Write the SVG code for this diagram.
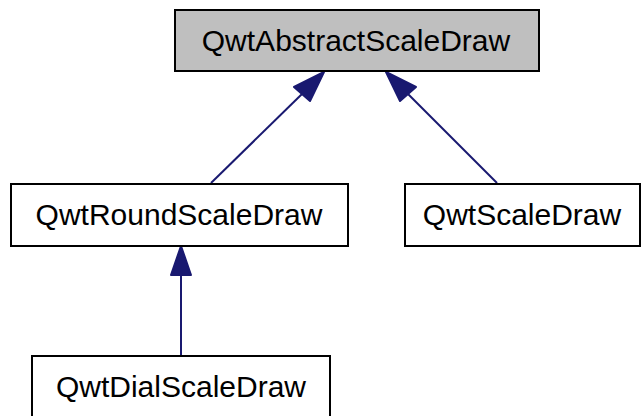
<svg xmlns="http://www.w3.org/2000/svg" width="642" height="416" viewBox="0 0 642 416">
<style>
.box{fill:#fff;stroke:#000;stroke-width:2}
.base{fill:#bfbfbf}
text{font-family:"Liberation Sans",Arial,sans-serif;font-size:30px;text-anchor:middle;fill:#000}
.edge{stroke:#191970;stroke-width:2;fill:none}
.head{fill:#191970;stroke:#191970;stroke-width:2;stroke-linejoin:round}
</style>
<rect width="642" height="416" fill="#fff"/>
<g id="edges">
<path class="edge" d="M211,183 L302,94"/>
<polygon class="head" points="324,72 294,87 310,101"/>
<path class="edge" d="M497,183 L408,94"/>
<polygon class="head" points="386,72 400,101 416,87"/>
<path class="edge" d="M181,355 L181,274"/>
<polygon class="head" points="181,246 171,275 191,275"/>
</g>
<g id="QwtAbstractScaleDraw">
<rect class="box base" x="175" y="10" width="364" height="61"/>
<text x="356" y="51">QwtAbstractScaleDraw</text>
</g>
<g id="QwtRoundScaleDraw">
<rect class="box" x="11" y="184" width="337" height="62"/>
<text x="179" y="225">QwtRoundScaleDraw</text>
</g>
<g id="QwtScaleDraw">
<rect class="box" x="405" y="184" width="235" height="62"/>
<text x="522" y="225">QwtScaleDraw</text>
</g>
<g id="QwtDialScaleDraw">
<rect class="box" x="32" y="356" width="298" height="62"/>
<text x="181" y="397">QwtDialScaleDraw</text>
</g>
</svg>
